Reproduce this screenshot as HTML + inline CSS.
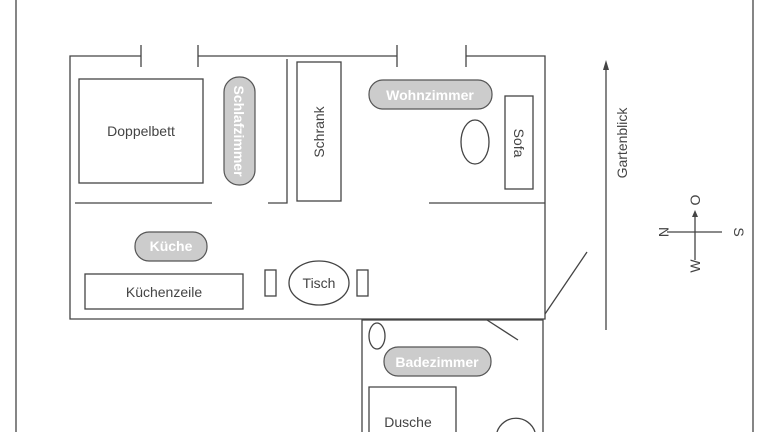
<!DOCTYPE html>
<html><head><meta charset="utf-8"><style>html,body{margin:0;width:768px;height:432px;overflow:hidden;background:#fff}svg{display:block;overflow:hidden}text{font-family:"Liberation Sans",sans-serif;fill:#444}</style></head><body>
<svg width="768" height="432" viewBox="0 0 768 432" xmlns="http://www.w3.org/2000/svg">
<g stroke="#444" stroke-width="1.3" fill="none">
<line x1="16" y1="0" x2="16" y2="432"/><line x1="753" y1="0" x2="753" y2="432"/>
<polyline points="141,56 70,56 70,319 545,319 545,56 466,56"/>
<line x1="198" y1="56" x2="397" y2="56"/>
<line x1="141" y1="45" x2="141" y2="67"/><line x1="198" y1="45" x2="198" y2="67"/>
<line x1="397" y1="45" x2="397" y2="67"/><line x1="466" y1="45" x2="466" y2="67"/>
<rect x="79" y="79" width="124" height="104"/>
<polyline points="287,59 287,203 268,203"/>
<line x1="75" y1="203" x2="212" y2="203"/>
<rect x="297" y="62" width="44" height="139"/>
<ellipse cx="475" cy="142" rx="14" ry="22"/>
<rect x="505" y="96" width="28" height="93"/>
<line x1="429" y1="203" x2="545" y2="203"/>
<rect x="85" y="274" width="158" height="35"/>
<rect x="265" y="270" width="11" height="26"/><rect x="357" y="270" width="11" height="26"/>
<ellipse cx="319" cy="283" rx="30" ry="22"/>
<polyline points="362,432 362,320 543,320 543,432"/>
<line x1="545" y1="314" x2="587" y2="252"/>
<line x1="487" y1="320" x2="518" y2="340"/>
<ellipse cx="377" cy="336" rx="8" ry="13"/>
<polyline points="369,432 369,387 456,387 456,432"/>
<path d="M497,432 A20,20 0 0 1 535,432"/>
<line x1="606" y1="68" x2="606" y2="330"/>
<line x1="667" y1="232" x2="722" y2="232"/>
<line x1="695" y1="260" x2="695" y2="216"/>
</g>
<polygon points="606,60 603,70 609,70" fill="#444"/>
<polygon points="695,210 692,217 698,217" fill="#444"/>
<g fill="#ccc" stroke="#555" stroke-width="1.2">
<rect x="224" y="77" width="31" height="108" rx="15"/>
<rect x="369" y="80" width="123" height="29" rx="14"/>
<rect x="135" y="232" width="72" height="29" rx="14"/>
<rect x="384" y="347" width="107" height="29" rx="14"/>
</g>
<g font-size="14" text-anchor="middle">
<text x="141" y="136">Doppelbett</text>
<text x="164" y="297">Küchenzeile</text>
<text x="319" y="288">Tisch</text>
<text x="408" y="427">Dusche</text>
<text transform="translate(324,132) rotate(-90)">Schrank</text>
<text transform="translate(514,143) rotate(90)">Sofa</text>
<text transform="translate(627,143) rotate(-90)">Gartenblick</text>
<text transform="translate(659,232) rotate(90)">N</text>
<text transform="translate(734,232) rotate(90)">S</text>
<text transform="translate(700,200) rotate(-90)">O</text>
<text transform="translate(700,266) rotate(-90)">W</text>
</g>
<g font-size="14" font-weight="bold" text-anchor="middle">
<text x="430" y="100" style="fill:#fff">Wohnzimmer</text>
<text x="171" y="251" style="fill:#fff">Küche</text>
<text x="437" y="367" style="fill:#fff">Badezimmer</text>
<text transform="translate(234,131) rotate(90)" style="fill:#fff">Schlafzimmer</text>
</g>
</svg>
</body></html>
